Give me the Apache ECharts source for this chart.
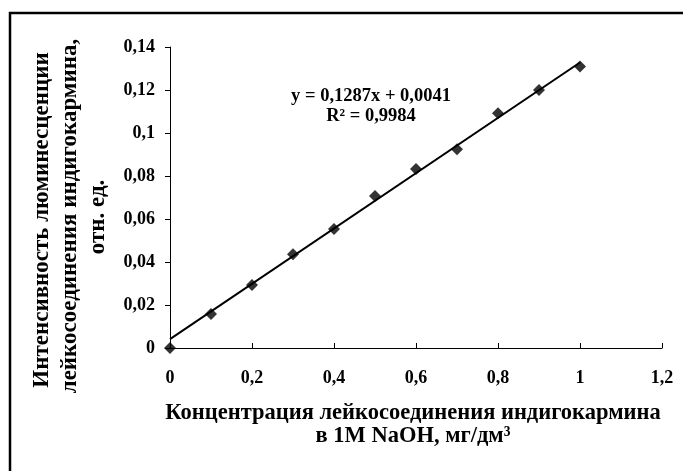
<!DOCTYPE html>
<html>
<head>
<meta charset="utf-8">
<script src="https://cdn.jsdelivr.net/npm/echarts@6/dist/echarts.min.js"></script>
<style>html,body{margin:0;padding:0;background:#fff}#c{width:683px;height:471px}</style>
</head>
<body>
<div id="c"></div>
<script>
const concentrations = [0, 0.1, 0.2, 0.3, 0.4, 0.5, 0.6, 0.7, 0.8, 0.9, 1.0];
const intensities = [0, 0.0158, 0.0293, 0.0436, 0.0553, 0.0707, 0.0833, 0.0924, 0.1092, 0.1200, 0.1309];
const trendX = [0, 1];
const trendY = [0.0041, 0.1328];
const equationText = 'y = 0,1287x + 0,0041';
const r2Text = 'R² = 0,9984';
const xAxisTitle = 'Концентрация лейкосоединения индигокармина\nв 1M NaOH, мг/дм³';
const yAxisTitle = ['Интенсивность люминесценции', 'лейкосоединения индигокармина,', 'отн. ед.'];

const font = '"Liberation Serif", "Times New Roman", serif';
const fmt = v => String(+v.toFixed(2)).replace('.', ',');

const chart = echarts.init(document.getElementById('c'), null, {renderer: 'canvas'});
chart.setOption({
  animation: false,
  backgroundColor: '#fff',
  grid: {left: 170, right: 21, top: 47, bottom: 123},
  xAxis: {
    type: 'value', min: 0, max: 1.2, interval: 0.2,
    axisLine: {show: true, lineStyle: {color: '#000', width: 1}},
    axisTick: {show: true, inside: true, length: 5, lineStyle: {color: '#000'}},
    splitLine: {show: false},
    axisLabel: {color: '#000', fontFamily: font, fontWeight: 'bold', fontSize: 18, margin: 21, formatter: fmt}
  },
  yAxis: {
    type: 'value', min: 0, max: 0.14, interval: 0.02,
    axisLine: {show: true, lineStyle: {color: '#000', width: 1}},
    axisTick: {show: true, inside: false, length: 5, lineStyle: {color: '#000'}},
    splitLine: {show: false},
    axisLabel: {color: '#000', fontFamily: font, fontWeight: 'bold', fontSize: 18, margin: 15, formatter: fmt}
  },
  series: [
    {
      type: 'line',
      data: trendX.map((x, i) => [x, trendY[i]]),
      showSymbol: false, symbol: 'none',
      lineStyle: {color: '#000', width: 2},
      z: 2
    },
    {
      type: 'scatter',
      data: concentrations.map((x, i) => [x, intensities[i]]),
      symbol: 'diamond', symbolSize: 12,
      itemStyle: {color: '#000'},
      z: 3
    }
  ],
  graphic: [
    {type: 'rect', shape: {x: 10, y: 13, width: 720, height: 520}, style: {fill: 'none', stroke: '#000', lineWidth: 2.5}, z: 10},
    {type: 'text', x: 371, y: 96, style: {text: equationText, font: 'bold 18.5px ' + font, fill: '#000', align: 'center', verticalAlign: 'middle'}},
    {type: 'text', x: 371, y: 116, style: {text: r2Text, font: 'bold 18.5px ' + font, fill: '#000', align: 'center', verticalAlign: 'middle'}},
    {type: 'text', x: 413, y: 425, style: {text: xAxisTitle, font: 'bold 22.5px ' + font, fill: '#000', align: 'center', verticalAlign: 'middle', lineHeight: 23}},
    {type: 'text', x: 42, y: 220, rotation: Math.PI / 2, style: {text: yAxisTitle[0], font: 'bold 23px ' + font, fill: '#000', align: 'center', verticalAlign: 'middle'}},
    {type: 'text', x: 70, y: 216, rotation: Math.PI / 2, style: {text: yAxisTitle[1], font: 'bold 23px ' + font, fill: '#000', align: 'center', verticalAlign: 'middle'}},
    {type: 'text', x: 98, y: 217, rotation: Math.PI / 2, style: {text: yAxisTitle[2], font: 'bold 23px ' + font, fill: '#000', align: 'center', verticalAlign: 'middle'}}
  ]
});
</script>
</body>
</html>
